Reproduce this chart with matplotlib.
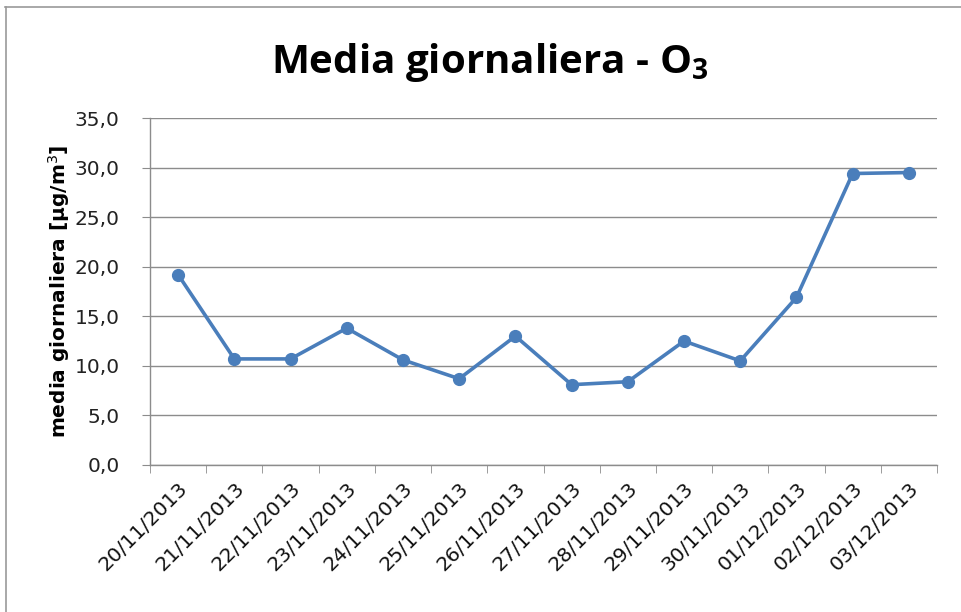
import matplotlib
matplotlib.use("Agg")
import matplotlib.pyplot as plt
from matplotlib.lines import Line2D
import numpy as np

dates = ["20/11/2013", "21/11/2013", "22/11/2013", "23/11/2013", "24/11/2013",
         "25/11/2013", "26/11/2013", "27/11/2013", "28/11/2013", "29/11/2013",
         "30/11/2013", "01/12/2013", "02/12/2013", "03/12/2013"]
values = [19.2, 10.7, 10.7, 13.8, 10.6, 8.7, 13.0, 8.1, 8.4, 12.5,
          10.5, 16.9, 29.4, 29.5]
y_ticks = [0, 5, 10, 15, 20, 25, 30, 35]
y_tick_labels = ["0,0", "5,0", "10,0", "15,0", "20,0", "25,0", "30,0", "35,0"]

plt.rcParams['font.family'] = ['DejaVu Sans']

W, H = 961, 612
fig = plt.figure(figsize=(W / 100, H / 100), dpi=100)
ax = fig.add_axes([150 / W, 1 - 465 / H, (937 - 150) / W, (465 - 118) / H])

x = np.arange(len(dates))
ax.plot(x, values, color="#4A7EBB", lw=2.6, marker="o", ms=8.5,
        markerfacecolor="#4A7EBB", markeredgecolor="#4A7EBB", zorder=3)

ax.set_xlim(-0.5, len(dates) - 0.5)
ax.set_ylim(0, 35)
ax.set_yticks(y_ticks)
ax.set_yticklabels(y_tick_labels, fontsize=14.5, color="#222222")
ax.yaxis.grid(True, color="#8c8c8c", lw=1.0)
ax.set_axisbelow(True)

ax.set_xticks(x)
ax.set_xticklabels(dates, rotation=45, ha="right", va="top",
                   rotation_mode="anchor", fontsize=14.5, color="#111111")
ax.tick_params(axis="x", which="major", length=0, pad=10)
ax.set_xticks(np.arange(-0.5, len(dates), 1.0), minor=True)
ax.tick_params(axis="x", which="minor", length=6, color="#8c8c8c", direction="out")
ax.tick_params(axis="y", which="major", length=6, color="#8c8c8c", direction="out", pad=16)

for s in ["top", "right"]:
    ax.spines[s].set_visible(False)
for s in ["left", "bottom"]:
    ax.spines[s].set_color("#8c8c8c")
    ax.spines[s].set_linewidth(1.0)

ax.set_ylabel("media giornaliera [µg/m$^3$]", fontsize=14.5, fontweight="bold", labelpad=2)

fig.text(490 / W, 1 - 62 / H, r"Media giornaliera - O$\mathregular{_3}$", fontsize=29,
         fontweight="bold", ha="center", va="center", family=["Open Sans", "DejaVu Sans"])

# chart frame
fig.add_artist(Line2D([5 / W, 1], [1 - 7 / H, 1 - 7 / H], color="#9a9a9a", lw=1.2,
                      transform=fig.transFigure))
fig.add_artist(Line2D([6 / W, 6 / W], [1 - 7 / H, 0], color="#9a9a9a", lw=1.2,
                      transform=fig.transFigure))

fig.savefig("out.png", dpi=100, facecolor="white")
